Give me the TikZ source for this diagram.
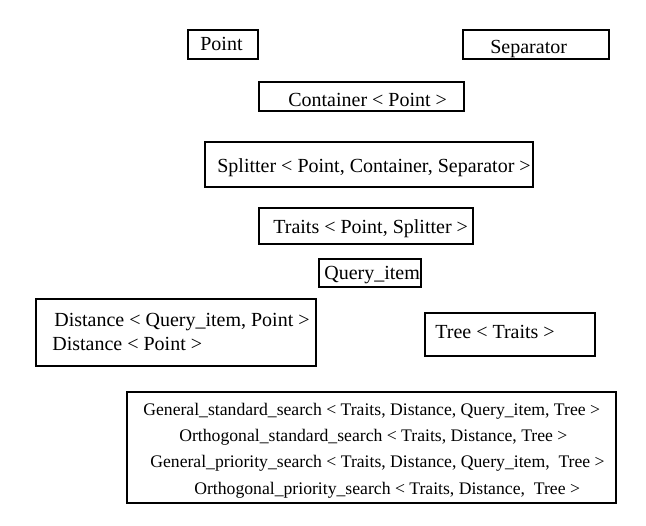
\documentclass[tikz,border=0pt]{standalone}
\usepackage{fontspec}
\setmainfont{Liberation Serif}

\begin{document}
\begin{tikzpicture}[x=0.6pt, y=-0.6pt, font=\fontsize{12}{14}\selectfont]
    \useasboundingbox (0,0) rectangle (646,526);

    % Boxes
    \foreach \xa/\ya/\xb/\yb in {
        188/30/258/59,
        463/30/609/59,
        259/82/464/111,
        205/142/533/187,
        259/208/473/244,
        319/259/421/287,
        36/299/316/366,
        425/313/595/356,
        127/392/616/503
    } {
        \draw[line width=1.2pt] (\xa,\ya) rectangle (\xb,\yb);
    }

    % Labels
    \foreach \name/\x/\y/\label in {
        point/200/51/{Point},
        separator/490/54/{Separator},
        container/288/107/{Container < Point >},
        splitter/217/173/{Splitter < Point, Container, Separator >},
        traits/273/234/{Traits < Point, Splitter >},
        query/324/280/{Query\_item},
        distA/54/327/{Distance < Query\_item, Point >},
        distB/52/351/{Distance < Point >},
        tree/435/339/{Tree < Traits >}
    } {
        \node[anchor=base west, inner sep=0pt] (\name) at (\x,\y) {\label};
    }

    % Searches (smaller type)
    \foreach \name/\x/\y/\label in {
        gensearch/143/416/{General\_standard\_search < Traits, Distance, Query\_item, Tree >},
        orthsearch/179/442/{Orthogonal\_standard\_search < Traits, Distance, Tree >},
        genprio/150/468/{General\_priority\_search < Traits, Distance, Query\_item,~ Tree >},
        orthprio/194/495/{Orthogonal\_priority\_search < Traits, Distance,~ Tree >}
    } {
        \node[anchor=base west, inner sep=0pt, font=\fontsize{10.6}{12}\selectfont] (\name) at (\x,\y) {\label};
    }
\end{tikzpicture}
\end{document}
